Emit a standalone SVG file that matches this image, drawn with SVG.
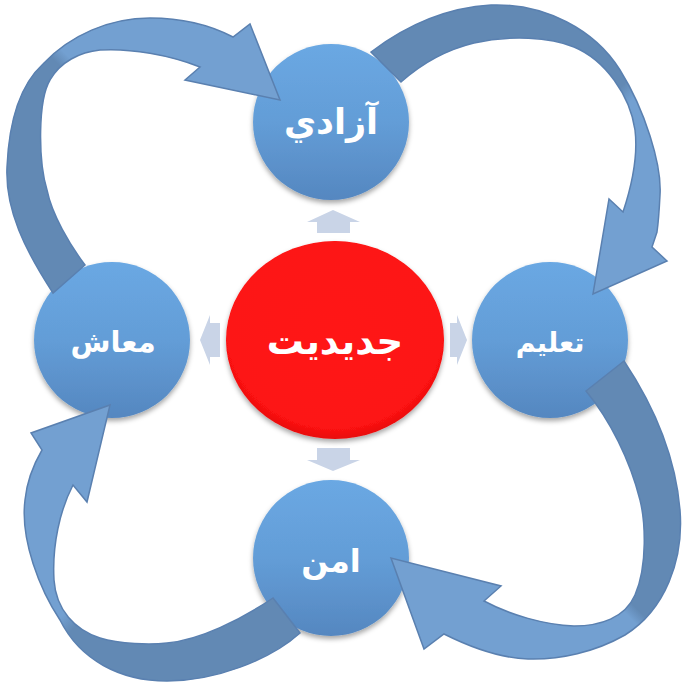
<svg xmlns="http://www.w3.org/2000/svg" width="682" height="682" viewBox="0 0 682 682">
  <style>
    .node-circle { fill: url(#blueBall); filter: url(#shadow); }
    .label { font-family: "DejaVu Sans", "Noto Sans", sans-serif; font-weight: bold; fill: #ffffff; text-anchor: middle; }
    .small-arrow { fill: #c9d4e7; }
    .curve { stroke: #5a80b0; stroke-width: 1.5; stroke-linejoin: miter; }
  </style>
  <defs>
    <linearGradient id="blueBall" x1="0" y1="0" x2="0" y2="1">
      <stop offset="0" stop-color="#6aa8e3"/>
      <stop offset="0.5" stop-color="#639dd7"/>
      <stop offset="1" stop-color="#5587c0"/>
    </linearGradient>
    <radialGradient id="redBall" cx="0.5" cy="0.45" r="0.55">
      <stop offset="0" stop-color="#ff1414"/>
      <stop offset="0.9" stop-color="#fd1212"/>
      <stop offset="1" stop-color="#e80f0f"/>
    </radialGradient>
    <filter id="shadow" x="-20%" y="-20%" width="140%" height="150%">
      <feDropShadow dx="0" dy="3" stdDeviation="2.5" flood-color="#000000" flood-opacity="0.35"/>
    </filter>
    <linearGradient id="g1" gradientUnits="userSpaceOnUse" x1="20" y1="80" x2="80" y2="20">
      <stop offset="0.45" stop-color="#6289b4"/>
      <stop offset="0.6" stop-color="#73a0d1"/>
    </linearGradient>
    <linearGradient id="g2" gradientUnits="userSpaceOnUse" x1="600" y1="60" x2="660" y2="120">
      <stop offset="0.4" stop-color="#6289b4"/>
      <stop offset="0.6" stop-color="#73a0d1"/>
    </linearGradient>
    <linearGradient id="g3" gradientUnits="userSpaceOnUse" x1="660" y1="600" x2="620" y2="640">
      <stop offset="0.4" stop-color="#6289b4"/>
      <stop offset="0.6" stop-color="#73a0d1"/>
    </linearGradient>
    <linearGradient id="g4" gradientUnits="userSpaceOnUse" x1="110" y1="640" x2="50" y2="580">
      <stop offset="0.4" stop-color="#6289b4"/>
      <stop offset="0.6" stop-color="#73a0d1"/>
    </linearGradient>
  </defs>

  <g id="center-arrows">
    <path class="small-arrow" d="M333,210 L360,222 L350,222 L350,233 L317,233 L317,222 L307,222 Z"/>
    <path class="small-arrow" d="M317,448 L350,448 L350,460 L360,460 L333,471 L307,460 L317,460 Z"/>
    <path class="small-arrow" d="M200,340 L210,315 L210,323 L220,323 L220,357 L210,357 L210,365 Z"/>
    <path class="small-arrow" d="M450,323 L457,323 L457,315 L467,340 L457,365 L457,357 L450,357 Z"/>
  </g>

  <g id="node-center">
    <ellipse cx="335" cy="340" rx="109" ry="99" fill="url(#redBall)" filter="url(#shadow)"/>
    <text class="label" x="335" y="354" font-size="37">جديديت</text>
  </g>

  <g id="node-top">
    <circle class="node-circle" cx="331" cy="122" r="78"/>
    <text class="label" x="331" y="134" font-size="35">آزادي</text>
  </g>
  <g id="node-left">
    <circle class="node-circle" cx="112" cy="340" r="78"/>
    <text class="label" x="113" y="352" font-size="29">معاش</text>
  </g>
  <g id="node-right">
    <circle class="node-circle" cx="550" cy="340" r="78"/>
    <text class="label" x="550" y="352" font-size="27">تعليم</text>
  </g>
  <g id="node-bottom">
    <circle class="node-circle" cx="331" cy="558" r="78"/>
    <text class="label" x="331" y="572" font-size="32">امن</text>
  </g>

  <g id="connectors">
    <path class="curve" fill="url(#g1)" d="M85,265 L53,293 C25,250 5,210 7,167 C9,120 20,85 43,64 C70,35 110,18 150,18 C180,18 210,25 233,37 L250,24 L280,100 L185,80 L200,67 C170,55 130,48 100,50 C80,52 60,62 50,80 C38,100 38,160 47,190 C52,215 70,245 85,265 Z"/>
    <path class="curve" fill="url(#g2)" d="M401,82 L371,52 C400,30 440,8 491,5 C545,3 595,30 620,70 C645,110 662,165 660,195 C659,215 658,225 657,232 L652,247 L667,261 L593,294 L609,199 L623,212 C632,185 638,155 635,130 C630,95 605,60 574,47 C550,37 510,35 474,43 C445,50 420,65 401,82 Z"/>
    <path class="curve" fill="url(#g3)" d="M586,391 L624,361 C650,400 675,450 680,510 C684,560 665,610 625,635 C595,652 560,660 528,659 C500,658 470,647 444,634 L424,649 L391,558 L501,586 L484,601 C510,615 545,625 574,626 C600,626 625,618 635,595 C648,565 645,520 640,500 C630,460 610,420 586,391 Z"/>
    <path class="curve" fill="url(#g4)" d="M273,598 L300,633 C270,660 215,681 167,681 C120,681 80,660 60,620 C40,590 20,540 25,500 C27,480 35,462 42,450 L31,433 L110,405 L87,502 L73,485 C60,510 52,545 54,580 C56,610 75,630 100,638 C120,644 150,645 167,643 C200,640 240,620 273,598 Z"/>
  </g>
</svg>
